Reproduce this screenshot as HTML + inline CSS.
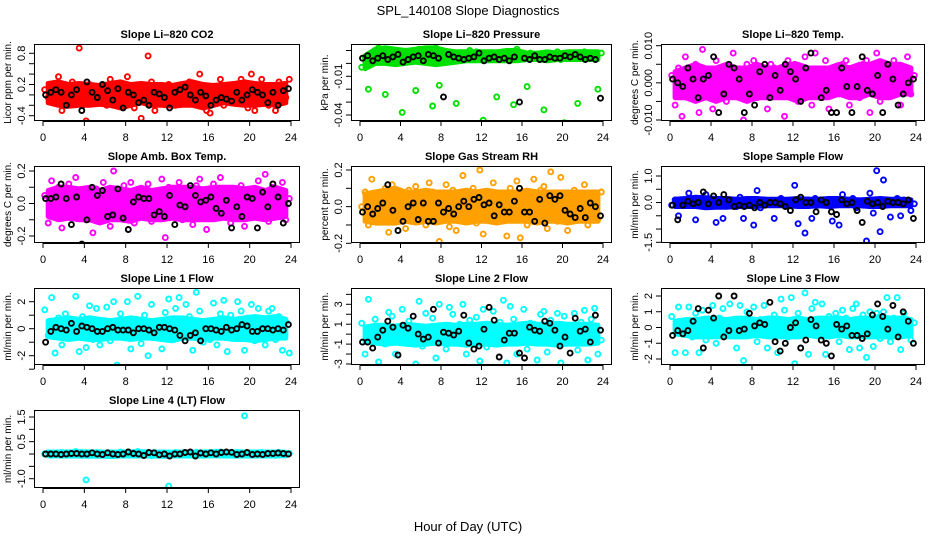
<!DOCTYPE html>
<html><head><meta charset="utf-8"><title>SPL_140108 Slope Diagnostics</title>
<style>
html,body{margin:0;padding:0;background:#fff;}
svg{display:block;font-family:"Liberation Sans",sans-serif;}
</style></head>
<body>
<svg id="chart" width="936" height="540" viewBox="0 0 936 540" xmlns="http://www.w3.org/2000/svg">
<rect x="0" y="0" width="936" height="540" fill="#fff"/>
<text x="468" y="15" text-anchor="middle" font-size="13">SPL_140108  Slope Diagnostics</text>
<text x="468" y="531" text-anchor="middle" font-size="13">Hour of Day (UTC)</text>
</svg>
<script>
const xTicks = [0,4,8,12,16,20,24];

const co2Color = [0.1,-0.05,0.2, 0.15,0.35,-0.3, 0.05,-0.15,0.25, 0.1,0.9,-0.2, -0.5,0.2,-0.1, 0.15,0,0.05, -0.2,0.3,0.1, 0.05,-0.1,0.2, 0.35,0,-0.25, 0.15,-0.45,0.05, 0.75,0.25,-0.3, 0.1,0.1,-0.1, 0.2,0,-0.2, 0.15,0.05,-0.1, 0.25,-0.15,0.1, 0.4,0.05,-0.3, -0.35,0.15,-0.05, 0.3,-0.2,0.1, 0,0.2,-0.15, 0.3,0.05,-0.25, 0.4,-0.3,0.15, 0.3,0.05,-0.2, 0.1,-0.3,0.25, 0.15,-0.05,0.3];
const co2Black = [0,0.05,0.1,0.05,-0.2,0,0.1,-0.3,0.25,0.05,-0.05,0.2,0.08,-0.1,0.12,-0.25,0.05,0,-0.15,-0.1,-0.2,0.05,0.02,-0.05,-0.25,0.05,0.1,0.15,0,-0.1,0.05,-0.02,-0.2,-0.1,-0.05,-0.08,-0.12,0.05,-0.1,0,0.1,0.05,0,-0.15,0.05,-0.2,0.08,0.12];
const co2Hi = [0.22,0.25,0.2,0.22,0.2,0.18,0.22,0.25,0.2,0.22,0.2,0.2,0.18,0.22,0.25,0.2,0.18,0.2,0.22,0.25,0.22,0.2,0.2,0.22];
const co2Lo = [-0.15,-0.2,-0.22,-0.2,-0.2,-0.18,-0.2,-0.25,-0.2,-0.15,-0.2,-0.2,-0.22,-0.2,-0.2,-0.25,-0.2,-0.15,-0.18,-0.2,-0.2,-0.18,-0.2,-0.15];
const co2Ticks = [-0.4,-0.2,0,0.2,0.4,0.6,0.8];
const co2Labels = ["0.8","0.2","-0.4"];

const presColor = [-0.003,0.005,-0.02, 0.008,0.004,0.012, 0.006,-0.024,0.003, 0.007,0.01,0.002, -0.038,0.009,0.005, 0.006,-0.021,0.011, 0.008,0.018,0.004, -0.033,0.012,-0.017, 0.009,0.006,0.003, 0.005,-0.031,0.008, 0.007,0.004,0.01, 0.006,0.009,0.003, -0.044,0.007,0.005, 0.008,-0.026,0.006, 0.004,0.009,0.007, -0.032,0.011,0.005, 0.006,-0.018,0.008, 0.007,0.004,0.006, -0.036,0.008,0.005, 0.006,0.009,0.003, -0.046,0.007,0.005, 0.008,-0.031,0.006, 0.009,0.004,0.007, 0.006,-0.02,0.008];
const presBlack = [0.004,0.006,0.002,0.004,0.006,0.003,0.005,0.007,0.001,0.003,0.005,0.006,0.002,0.007,0.006,0.004,-0.026,0.007,0.005,0.004,0.003,0.004,0.005,0.008,0.002,0.004,0.005,0.003,0.004,0.002,0.005,-0.03,0.004,0.003,0.006,0.003,0.003,0.005,0.004,0.004,0.006,0.005,0.007,0.005,0.003,0.004,0.003,-0.027];
const presHi = [0.006,0.011,0.012,0.011,0.01,0.011,0.012,0.012,0.01,0.009,0.009,0.009,0.009,0.009,0.01,0.01,0.008,0.008,0.009,0.008,0.009,0.009,0.009,0.009];
const presLo = [-0.004,0,0,-0.001,0,0.001,0,-0.001,0,0.001,0.002,0.002,0.002,0.002,0.002,0.002,0.003,0.003,0.002,0.003,0.003,0.003,0.003,0.003];
const presTicks = [0.01,0,-0.01,-0.02,-0.03,-0.04];
const presLabels = ["-0.01","-0.04"];

const tempColor = [0.002,-0.006,0.004, -0.009,0.007,0.001, -0.003,0.005,-0.008, 0.009,-0.002,0.003, -0.007,0.006,0, 0.004,-0.005,0.002, 0.008,-0.003,0.001, -0.01,0.005,-0.001, 0.006,-0.004,0.003, 0.002,-0.007,0.005, 0.004,0,-0.003, -0.009,0.006,0.002, 0.005,-0.005,0.001, 0.007,-0.002,-0.006, 0.008,0.003,-0.004, 0.006,-0.007,0.001, 0.004,-0.003,0.005, 0.006,-0.006,0, 0.003,-0.004,0.005, 0.006,-0.008,0.002, 0.008,-0.005,0.004, 0.005,-0.002,0.006, 0.003,-0.006,0.001, 0.007,-0.003,0.002];
const tempBlack = [0.001,0,-0.001,0.004,0.001,-0.004,0.001,0.002,0.007,-0.008,-0.003,0.005,0.004,0.001,-0.008,-0.003,-0.006,0.003,0.005,-0.004,0.002,-0.002,0.005,0.003,0.001,-0.005,0.004,0.008,-0.013,-0.004,-0.002,-0.008,-0.008,0.004,-0.001,-0.008,-0.001,0.007,-0.002,-0.003,0.002,-0.008,0.005,0.001,-0.006,-0.003,0,0.001];
const tempHi = [0.003,0.004,0.005,0.004,0.004,0.005,0.004,0.004,0.005,0.004,0.004,0.005,0.005,0.004,0.004,0.004,0.005,0.004,0.005,0.005,0.006,0.005,0.005,0.004];
const tempLo = [-0.004,-0.004,-0.005,-0.004,-0.005,-0.004,-0.004,-0.005,-0.004,-0.004,-0.004,-0.004,-0.005,-0.004,-0.004,-0.004,-0.003,-0.004,-0.004,-0.003,-0.004,-0.004,-0.003,-0.003];
const tempTicks = [0.01,0.005,0,-0.005,-0.01];
const tempLabels = ["0.010","0.000","-0.010"];

const ambColor = [0.05,-0.12,0.14, -0.04,0.1,-0.15, 0.02,0.12,-0.08, 0.16,-0.02,0.07, -0.1,0.04,-0.18, 0.09,-0.06,0.13, 0.01,-0.14,0.2, 0.06,-0.09,0.11, -0.03,0.13,-0.12, 0.08,-0.05,0.03, 0.12,-0.11,0.02, -0.07,0.15,-0.21, 0.1,-0.04,0.05, 0.13,-0.1,0, 0.07,-0.13,0.11, 0.15,-0.06,-0.16, 0.03,0.12,-0.09, 0.16,-0.03,0.08, -0.12,0.09,0.02, 0.11,-0.14,0.05, 0.08,-0.08,0.14, -0.05,0.18,-0.11, 0.1,-0.02,0.06, 0.13,-0.1,0.03];
const ambBlack = [0.03,0.03,0.04,0.12,0.03,-0.13,0.04,-0.25,-0.1,0.1,0.05,0.08,-0.08,-0.07,0.09,-0.09,-0.16,0.01,0.04,0.03,0.03,-0.07,-0.05,-0.08,0.05,-0.13,-0.01,-0.02,0.11,0.05,0.01,0.02,0.04,-0.03,-0.06,0.02,-0.15,-0.02,-0.08,0.04,0.03,-0.15,0.07,-0.02,0.12,0.04,-0.12,0];
const ambHi = [0.08,0.1,0.1,0.09,0.1,0.08,0.1,0.09,0.08,0.1,0.08,0.09,0.1,0.1,0.1,0.09,0.1,0.1,0.1,0.09,0.1,0.08,0.1,0.08];
const ambLo = [-0.08,-0.1,-0.09,-0.1,-0.1,-0.12,-0.1,-0.1,-0.11,-0.09,-0.1,-0.1,-0.09,-0.1,-0.1,-0.1,-0.1,-0.09,-0.1,-0.1,-0.09,-0.1,-0.09,-0.08];
const ambTicks = [0.2,0.1,0,-0.1,-0.2];
const ambLabels = ["0.2","0.0","-0.2"];

const rhColor = [0,0.08,-0.1, 0.15,-0.05,0.04, -0.08,0.1,-0.14, 0.12,0.02,-0.06, 0.06,-0.12,0.09, -0.03,0.11,-0.08, 0.04,-0.1,0.13, 0.08,-0.05,-0.19, 0.02,0.12,-0.11, 0.09,-0.13,0.05, 0.17,-0.06,0.03, 0.1,-0.09,0.2, -0.15,0.07,-0.02, 0.13,-0.08,0.04, 0.05,-0.16,0.1, -0.04,0.14,-0.17, 0.08,-0.1,0.01, 0.15,-0.05,0.09, 0.11,-0.12,0.19, 0.06,-0.08,0.16, 0.02,-0.13,0.07, 0.09,-0.06,0.03, 0.12,-0.1,0.05, 0.04,-0.07,0.08];
const rhBlack = [-0.03,0,-0.04,-0.01,0.02,0.12,-0.02,-0.13,-0.08,0,0.02,-0.07,0.02,-0.08,-0.08,0.02,-0.03,-0.01,-0.04,0,0.03,0,0.04,0.05,0.01,0.02,-0.05,0.01,-0.03,-0.03,0.03,0.1,-0.03,-0.03,-0.08,0.04,-0.09,0.06,0.04,0.06,-0.02,-0.04,-0.06,-0.01,-0.06,0.02,0,-0.05];
const rhHi = [0.07,0.08,0.09,0.1,0.08,0.08,0.09,0.08,0.08,0.08,0.09,0.08,0.09,0.08,0.08,0.08,0.09,0.08,0.08,0.08,0.08,0.08,0.08,0.08];
const rhLo = [-0.08,-0.09,-0.09,-0.09,-0.08,-0.09,-0.08,-0.09,-0.08,-0.08,-0.09,-0.08,-0.08,-0.09,-0.08,-0.08,-0.08,-0.09,-0.08,-0.08,-0.09,-0.08,-0.08,-0.08];
const rhTicks = [0.2,0.1,0,-0.1,-0.2];
const rhLabels = ["0.2","0.0","-0.2"];

const sampColor = [-0.1,0.1,-0.5, 0.05,-0.1,0.35, 0,-0.65,0.15, -0.05,0.3,0.1, 0.05,-0.75,-0.1, -0.6,0.1,0, 0.05,-0.15,0.2, -0.6,0.1,-0.05, -0.85,0.45,-0.2, 0.1,0,-0.05, -0.6,0.05,0.15, -0.1,0,0.1, 0.65,-0.8,-0.05, -1.15,0.1,-0.6, 0.15,-0.1,0.05, 0,-0.05,-0.7, 0.1,-0.85,0.3, 0,-0.05,0.15, -0.2,0.05,-0.1, -1.45,0.35,-0.4, 1.2,-1.1,0.85, 0.1,-0.55,-0.05, 0.15,-0.5,0.1, 0.05,-0.3,-0.05];
const sampBlack = [-0.1,-0.65,-0.1,0.05,-0.05,0,0.4,-0.05,0.25,0,0.3,0.1,-0.15,-0.1,-0.15,-0.1,-0.2,0,-0.1,0,0,-0.05,-0.15,-0.3,0.1,0.2,0,0,-0.35,0.1,0,-0.35,-0.45,0.1,-0.05,0,-0.3,-0.75,0.05,-0.05,0,-0.15,0.05,0,0,-0.05,0.1,-0.6];
const sampHi = [0.12,0.15,0.2,0.18,0.15,0.15,0.12,0.15,0.15,0.12,0.12,0.12,0.15,0.12,0.12,0.15,0.15,0.12,0.1,0.12,0.15,0.12,0.12,0.1];
const sampLo = [-0.15,-0.15,-0.15,-0.2,-0.18,-0.18,-0.15,-0.15,-0.15,-0.12,-0.12,-0.12,-0.15,-0.15,-0.12,-0.15,-0.12,-0.12,-0.12,-0.15,-0.15,-0.12,-0.12,-0.12];
const sampTicks = [1,0.5,0,-0.5,-1,-1.5];
const sampLabels = ["1.0","0.0","-1.5"];

const l1Color = [1.4,-0.5,2.3, -1.8,0.8,-1.2, 1.1,-0.3,0.5, 2.4,-1.7,0.9, -1.4,1.7,-0.8, 1.5,-1.2,0.3, 1.6,-0.9,2.0, -2.7,1.1,-0.4, 2.0,-1.5,0.7, 2.4,-1.1,1.0, -2.0,1.8,-0.6, 0.5,-1.5,1.2, 2.2,-0.7,1.5, 2.3,-0.4,1.8, 0.9,-1.6,2.7, 1.3,-1.0,0.4, -0.8,1.9,-1.2, 1.1,2.1,-1.7, 1.0,-0.6,2.0, 1.3,-1.6,0.8, 1.8,-0.9,1.5, 0.6,-1.2,1.3, 1.5,-0.8,0.9, -1.6,0.5,-1.8];
const l1Black = [-1.0,-0.2,0.1,0,-0.1,0.4,-0.2,0.2,0.1,0,-0.2,-0.2,0,0.1,-0.1,-0.1,-0.1,-0.3,0,0,-0.1,-0.3,0.1,0.1,0,-0.1,-0.5,-0.9,-0.5,-0.3,-0.9,0,0,-0.1,-0.2,0.1,-0.1,0,0.3,0.2,-0.2,-0.2,0,0,-0.1,0,-0.1,0.3];
const l1Hi = [0.6,0.7,0.8,0.7,0.8,0.7,0.6,0.7,0.8,0.7,0.6,0.7,0.8,0.8,0.7,0.6,0.7,0.8,0.7,0.8,0.9,0.8,0.9,0.7];
const l1Lo = [-0.6,-0.7,-0.8,-0.7,-0.8,-0.8,-0.7,-0.7,-0.8,-0.7,-0.7,-0.8,-0.9,-0.7,-0.7,-0.8,-0.7,-0.7,-0.8,-0.8,-0.9,-0.8,-0.7,-0.7];
const l1Ticks = [2,1,0,-1,-2,-3];
const l1Labels = ["2","0","-2"];

const l2Color = [1.1,-2.0,3.5, -0.5,1.5,-2.8, 0.7,-1.0,2.2, 1.8,-2.0,0.4, 2.5,-0.8,1.3, 0.5,-3.0,3.3, -1.2,2.1,-0.3, 1.6,-2.4,3.0, 0.8,-1.5,2.7, 2.0,-0.6,1.0, 3.0,-2.0,1.4, -0.9,1.7,-2.7, 2.5,-1.3,0.6, 2.3,-0.4,1.2, 3.4,-2.9,2.8, 1.5,-2.0,0.9, 2.5,-1.5,1.1, 1.0,-2.6,2.0, 2.3,-1.8,1.4, -0.4,2.1,-2.9, 1.8,-0.9,0.7, 2.1,-1.6,1.2, 2.4,-2.6,1.5, 2.6,-2.0,-0.6];
const l2Black = [-0.8,-0.8,-1.4,-0.3,0.4,1.3,0.7,-2.1,0.9,0.6,1.8,0,-0.5,-0.3,2.5,-0.9,0.2,0.1,-0.1,0.3,1.9,-0.9,-1.5,-1.2,0.5,2.7,1.4,-2.3,-0.6,0.1,0.1,-1.9,-2.4,0.7,0.4,0.3,1.3,1.1,0.4,-1.2,-0.3,-1.9,1.6,0.3,0.5,-0.8,1.9,0.4];
const l2Hi = [0.7,0.9,0.9,0.8,1.0,0.9,0.8,0.9,1.0,0.9,1.0,1.0,1.1,1.0,0.9,1.0,1.1,1.0,1.0,1.1,1.0,1.0,1.0,0.9];
const l2Lo = [-0.8,-0.9,-1.0,-0.9,-1.0,-1.1,-1.0,-0.9,-1.0,-1.0,-1.1,-1.0,-1.0,-1.1,-1.0,-1.0,-0.9,-1.0,-1.0,-1.1,-1.0,-1.0,-1.0,-0.9];
const l2Ticks = [4,3,2,1,0,-1,-2,-3];
const l2Labels = ["3","1","-1","-3"];

const l3Color = [0.7,-1.6,1.3, 0.2,-1.6,1.3, -0.6,0.9,-1.6, 1.1,-0.8,0.4, 1.4,-1.0,0.6, 1.2,-0.5,1.5, 0.3,-1.3,1.4, -2.1,1.0,-0.2, 1.3,-0.9,0.5, 1.4,-1.3,-0.4, 0.8,-1.6,1.8, 1.1,-0.6,1.9, -2.3,0.9,-0.3, 2.2,-1.7,1.2, 1.6,-0.4,1.5, -1.7,0.7,-0.2, 0.9,-0.9,1.1, 0.6,-1.4,1.2, 1.5,-1.3,0.8, -1.9,1.0,-1.2, 0.9,-0.7,1.0, 1.9,-0.9,0.6, 1.9,-1.4,0.9, 0.5,-0.8,0.3];
const l3Black = [-0.5,-0.2,-0.4,-0.2,0.4,1.2,-1.3,1.1,0.6,2.0,-0.6,-0.2,2.0,-0.2,-0.1,0.9,0.1,0.3,0.2,1.6,-0.9,-1.5,-1.0,0,0.3,-1.3,-0.8,0.5,0.1,-0.8,-1.0,-1.8,0.2,-0.1,0.1,-0.5,-0.5,-0.7,-0.4,0.8,1.5,0.7,-0.1,1.4,-0.6,1.0,0.4,-1.0];
const l3Hi = [0.4,0.5,0.5,0.6,0.6,0.5,0.6,0.6,0.5,0.6,0.6,0.5,0.6,0.5,0.6,0.6,0.6,0.5,0.6,0.6,0.7,0.6,0.6,0.5];
const l3Lo = [-0.4,-0.5,-0.6,-0.6,-0.6,-0.6,-0.6,-0.6,-0.5,-0.6,-0.6,-0.6,-0.6,-0.5,-0.6,-0.6,-0.5,-0.6,-0.6,-0.6,-0.6,-0.6,-0.6,-0.5];
const l3Ticks = [2,1,0,-1,-2];
const l3Labels = ["2","1","0","-1","-2"];

const l4Color = [0,0.05,-0.05, 0.02,-0.04,0.06, 0,0.03,-0.03, 0.1,-0.05,0.02, -1.05,0.04,-0.02, 0.06,-0.05,0.03, -0.03,0.05,-0.06, 0.02,0.08,-0.03, 0.04,-0.02,0.06, 0.1,-0.04,0.03, 0.02,-0.06,0.05, -0.03,0.04,-0.05, -1.3,0.02,0.06, 0,-0.04,0.05, 0.03,-0.02,0.07, 0.05,-0.05,0.02, 0.04,-0.03,0.06, 0.08,-0.04,0.02, 0.03,-0.05,0.06, 0.01,1.55,-0.03, 0.04,-0.02,0.05, 0.06,-0.04,0.02, 0.03,-0.05,0.07, 0,-0.03,0.02];
const l4Black = [0,0,0,-0.02,0,0.02,0.02,0,0,0.05,0,-0.02,0.05,0,-0.02,0,0.08,0.02,0,-0.06,0.06,0.05,-0.03,0,-0.08,0,0,0.06,0.08,-0.08,0.04,0,0.05,0,0.06,0.08,0.07,-0.02,0,0.06,-0.02,0,-0.02,0.02,0.02,0.04,0.02,0];
const l4Hi = [0.07,0.08,0.08,0.1,0.08,0.08,0.07,0.08,0.08,0.09,0.08,0.08,0.07,0.08,0.08,0.08,0.09,0.09,0.08,0.08,0.08,0.08,0.08,0.07];
const l4Lo = [-0.07,-0.08,-0.08,-0.08,-0.09,-0.08,-0.1,-0.08,-0.08,-0.08,-0.08,-0.09,-0.08,-0.08,-0.08,-0.08,-0.07,-0.08,-0.08,-0.08,-0.08,-0.08,-0.08,-0.07];
const l4Ticks = [1.5,1,0.5,0,-0.5,-1];
const l4Labels = ["1.5","0.5","-1.0"];

// layout (not data): columns/rows and axis calibration
const cols = [[34,300],[351,612],[661,925]];
const panels = [
 {key:"co2",title:"Slope Li\u2013820 CO2",ylab:"Licor ppm per min.",col:0,row:0,color:"#ff0000",c:co2Color,b:co2Black,hi:co2Hi,lo:co2Lo,t:co2Ticks,l:co2Labels,v1:0.8,p1:53.3,v2:-0.4,p2:115.7},
 {key:"pressure",title:"Slope Li\u2013820 Pressure",ylab:"kPa per min.",col:1,row:0,color:"#00e000",c:presColor,b:presBlack,hi:presHi,lo:presLo,t:presTicks,l:presLabels,v1:-0.01,p1:76.3,v2:-0.04,p2:115},
 {key:"temp",title:"Slope Li\u2013820 Temp.",ylab:"degrees C per min.",col:2,row:0,color:"#ff00ff",c:tempColor,b:tempBlack,hi:tempHi,lo:tempLo,t:tempTicks,l:tempLabels,v1:0.01,p1:45.7,v2:-0.01,p2:120},
 {key:"amb-temp",title:"Slope Amb. Box Temp.",ylab:"degrees C per min.",col:0,row:1,color:"#ff00ff",c:ambColor,b:ambBlack,hi:ambHi,lo:ambLo,t:ambTicks,l:ambLabels,v1:0.2,p1:171,v2:-0.2,p2:236},
 {key:"rh",title:"Slope Gas Stream RH",ylab:"percent per min.",col:1,row:1,color:"#ffa000",c:rhColor,b:rhBlack,hi:rhHi,lo:rhLo,t:rhTicks,l:rhLabels,v1:0.2,p1:170,v2:-0.2,p2:243.3},
 {key:"sample-flow",title:"Slope Sample Flow",ylab:"ml/min per min.",col:2,row:1,color:"#0000ff",c:sampColor,b:sampBlack,hi:sampHi,lo:sampLo,t:sampTicks,l:sampLabels,v1:1,p1:176,v2:-1.5,p2:242.3},
 {key:"line1-flow",title:"Slope Line 1 Flow",ylab:"ml/min per min.",col:0,row:2,color:"#00ffff",c:l1Color,b:l1Black,hi:l1Hi,lo:l1Lo,t:l1Ticks,l:l1Labels,v1:2,p1:301.7,v2:-2,p2:355.7},
 {key:"line2-flow",title:"Slope Line 2 Flow",ylab:"ml/min per min.",col:1,row:2,color:"#00ffff",c:l2Color,b:l2Black,hi:l2Hi,lo:l2Lo,t:l2Ticks,l:l2Labels,v1:3,p1:304.3,v2:-3,p2:364},
 {key:"line3-flow",title:"Slope Line 3 Flow",ylab:"ml/min per min.",col:2,row:2,color:"#00ffff",c:l3Color,b:l3Black,hi:l3Hi,lo:l3Lo,t:l3Ticks,l:l3Labels,v1:2,p1:296,v2:-2,p2:359},
 {key:"line4-flow",title:"Slope Line 4 (LT) Flow",ylab:"ml/min per min.",col:0,row:3,color:"#00ffff",c:l4Color,b:l4Black,hi:l4Hi,lo:l4Lo,t:l4Ticks,l:l4Labels,v1:1.5,p1:417,v2:-1,p2:478.7}
];

const NS = "http://www.w3.org/2000/svg";
const svg = document.getElementById("chart");
function mk(tag, attrs, parent){
  const e = document.createElementNS(NS, tag);
  for (const k in attrs) e.setAttribute(k, attrs[k]);
  (parent||svg).appendChild(e);
  return e;
}

panels.forEach(p => {
  const [L,R] = cols[p.col];
  const T = 44 + 122*p.row, B = 121 + 122*p.row + (p.row===3 ? 1 : 0);
  const xS = h => (L+9) + (h/24)*((R-9)-(L+9));
  const yS = v => p.p1 + (v - p.v1)*(p.p2 - p.p1)/(p.v2 - p.v1);

  const g = mk("g", {});
  
  

  const title = mk("text", {x:(L+R)/2, y:T-6, "text-anchor":"middle", "font-size":"11", "font-weight":"bold"}, g);
  title.textContent = p.title;
  
  

  const clip = mk("clipPath", {id:"clip-"+p.key}, g);
  mk("rect", {x:L, y:T, width:R-L, height:B-T}, clip);
  const pts = mk("g", {"clip-path":"url(#clip-"+p.key+")"}, g);
  
  

  // dense core band of the colored series
  const n = p.hi.length;
  const up = p.hi.map((v,i) => xS((i+0.5)*24/n).toFixed(1)+","+yS(v).toFixed(1));
  const dn = p.lo.map((v,i) => xS((i+0.5)*24/n).toFixed(1)+","+yS(v).toFixed(1)).reverse();
  const band = mk("polygon", {points: up.concat(dn).join(" "), fill:p.color, stroke:p.color, "stroke-width":"5", "stroke-linejoin":"round"}, pts);
  
  

  p.c.forEach((v,i) => {
    const h = (i+0.5)*24/p.c.length;
    const c = mk("circle", {cx:xS(h).toFixed(1), cy:yS(v).toFixed(1), r:"2.5", fill:"none", stroke:p.color, "stroke-width":"1.9"}, pts);
    
    
  });
  p.b.forEach((v,i) => {
    const h = (i+0.5)*24/p.b.length;
    const c = mk("circle", {cx:xS(h).toFixed(1), cy:yS(v).toFixed(1), r:"2.5", fill:"none", stroke:"#000", "stroke-width":"1.9"}, pts);
    
    
  });

  const box = mk("rect", {x:L+0.5, y:T+0.5, width:R-L-1, height:B-T-1, fill:"none", stroke:"#000", "stroke-width":"1"}, g);
  
  

  const xa = mk("g", {}, g);
  
  
  mk("line", {x1:xS(0), x2:xS(24), y1:B+0.5, y2:B+0.5, stroke:"#000"}, xa);
  xTicks.forEach(t => {
    mk("line", {x1:xS(t), x2:xS(t), y1:B, y2:B+5, stroke:"#000"}, xa);
    const tl = mk("text", {x:xS(t), y:B+20, "text-anchor":"middle", "font-size":"11"}, xa);
    tl.textContent = String(t);
    
    
  });

  const ya = mk("g", {}, g);
  
  
  const ys = p.t.map(yS);
  mk("line", {x1:L+0.5, x2:L+0.5, y1:Math.min(...ys), y2:Math.max(...ys), stroke:"#000"}, ya);
  p.t.forEach(t => {
    mk("line", {x1:L-5, x2:L, y1:yS(t), y2:yS(t), stroke:"#000"}, ya);
  });
  p.l.forEach(s => {
    const y = yS(parseFloat(s));
    const tl = mk("text", {x:0, y:0, "text-anchor":"middle", "font-size":"11", transform:"translate("+(L-9)+","+y.toFixed(1)+") rotate(-90)"}, ya);
    tl.textContent = s;
    
    
  });
  const yt = mk("text", {x:0, y:0, "text-anchor":"middle", "font-size":"10", transform:"translate("+(L-23)+","+((T+B)/2)+") rotate(-90)"}, g);
  yt.textContent = p.ylab;
  
  
});
</script>
</body></html>
